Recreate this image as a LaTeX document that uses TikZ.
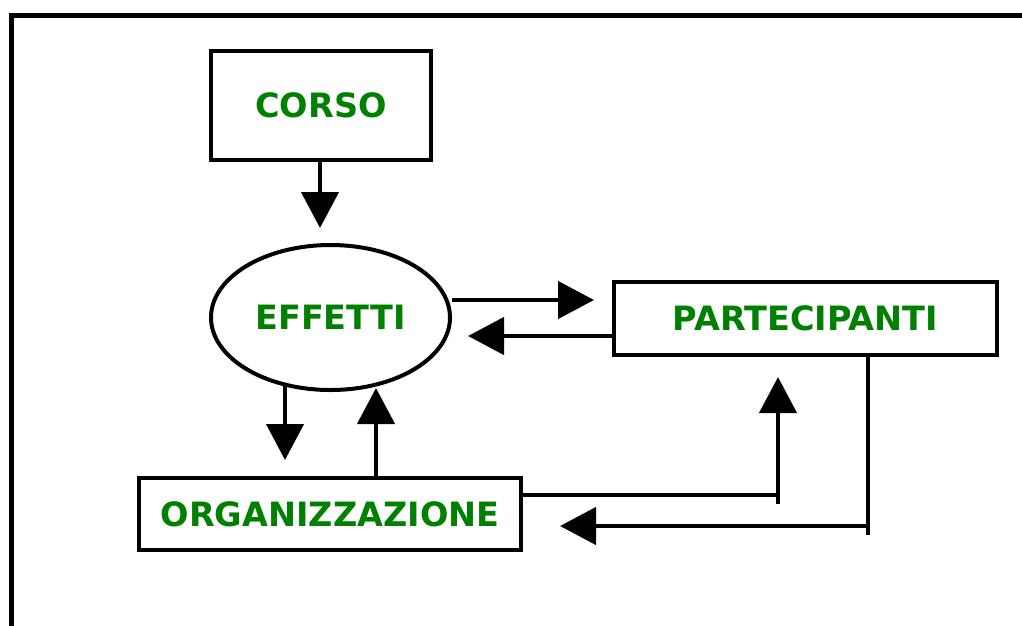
\documentclass[tikz,border=0pt]{standalone}
\usepackage{fontspec}
\setmainfont{DejaVu Sans}
\usetikzlibrary{arrows.meta,shapes.geometric}
\definecolor{txtgreen}{RGB}{0,128,0}
\tikzset{
  box/.style={draw, line width=4.5pt, rectangle, inner sep=0pt, text=txtgreen,
    font=\fontsize{33.5}{33.5}\selectfont\bfseries},
  oval/.style={draw, line width=4pt, ellipse, inner sep=0pt, text=txtgreen,
    font=\fontsize{33.5}{33.5}\selectfont\bfseries},
  conn/.style={line width=4.3pt},
  arr/.style={conn, -{Triangle[length=36pt,width=37pt]}},
}
\begin{document}
\begin{tikzpicture}[x=1pt,y=-1pt]
\useasboundingbox (0,0) rectangle (1022,625);
% frame
\draw[line width=5pt] (11,630) -- (11,15) -- (1030,15);
% nodes
\node[box, minimum width=220pt, minimum height=109pt] (corso) at (321,105.5) {CORSO};
\node[oval, minimum width=239pt, minimum height=145pt] (effetti) at (330.5,317.5) {EFFETTI};
\node[box, minimum width=383pt, minimum height=73pt] (part) at (805.5,318.5) {PARTECIPANTI};
\node[box, minimum width=382pt, minimum height=72pt] (org) at (330,514) {ORGANIZZAZIONE};
% coordinates
\coordinate (t1) at (320,228);
\coordinate (t2) at (594,300);
\coordinate (t3) at (468,336);
\coordinate (t4) at (285,460);
\coordinate (t5) at (376,388);
\coordinate (c1) at (778,495);
\coordinate (t6) at (778,377);
\coordinate (c2) at (868,526);
\coordinate (t7) at (560,526);
% connectors
\draw[arr] (corso.south -| t1) -- (t1);
\draw[arr] ([yshift=17.5pt]effetti.east) -- (t2);
\draw[arr] ([yshift=-17.5pt]part.west) -- (t3);
\draw[arr] (effetti.236 -| t4) -- (t4);
\draw[arr] (org.north -| t5) -- (t5);
\draw[arr] (org.east |- c1) -- (c1) -- (t6);
\draw[conn] (c1) -- ++(0,9);
\draw[arr] (part.south -| c2) -- (c2) -- (t7);
\draw[conn] (c2) -- ++(0,9);
\end{tikzpicture}
\end{document}
